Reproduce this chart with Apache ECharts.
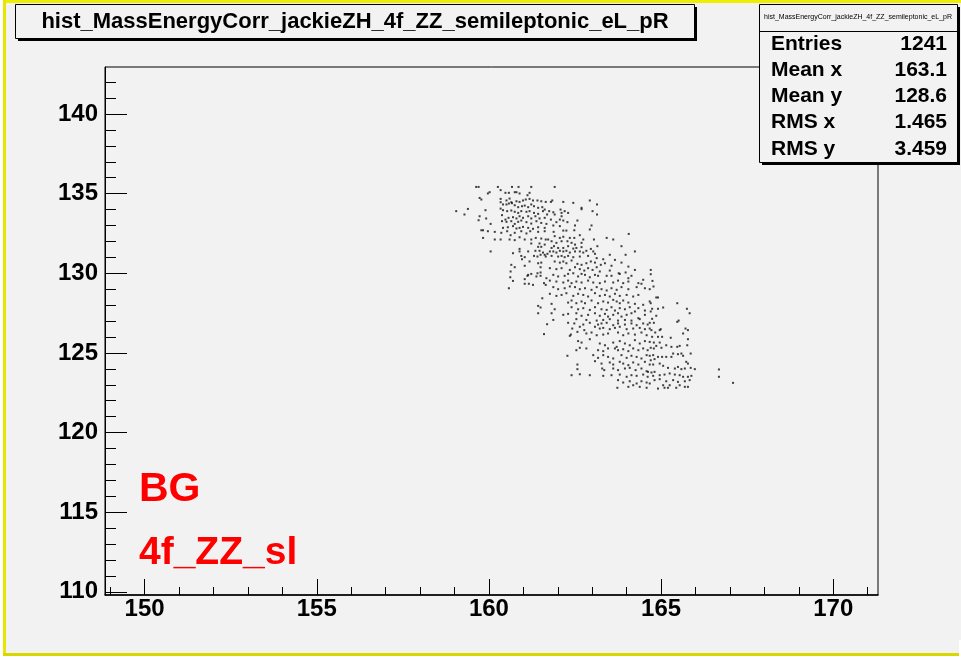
<!DOCTYPE html>
<html><head><meta charset="utf-8">
<script src="https://cdn.jsdelivr.net/npm/echarts@6/dist/echarts.min.js"></script>
<style>html,body{margin:0;padding:0;background:#fff}#c{width:961px;height:657px}</style>
</head><body><div id="c"></div>
<script>
const titleText = 'hist_MassEnergyCorr_jackieZH_4f_ZZ_semileptonic_eL_pR';
const statsLabels = ['Entries', 'Mean x', 'Mean y', 'RMS x', 'RMS y'];
const statsValues = ['1241', '163.1', '128.6', '1.465', '3.459'];
const xMajorTicks = [150, 155, 160, 165, 170];
const xMinorTicks = [149,150,151,152,153,154,155,156,157,158,159,160,161,162,163,164,165,166,167,168,169,170,171];
const yMajorTicks = [110, 115, 120, 125, 130, 135, 140];
const yMinorTicks = [110,111,112,113,114,115,116,117,118,119,120,121,122,123,124,125,126,127,128,129,130,131,132,133,134,135,136,137,138,139,140,141,142];
const labelLines = ['BG', '4f_ZZ_sl'];

// (x = mass, y = energy), region by region
const pointsUpperLeft = [
[159.63,135.42],[159.70,135.42],[160.26,135.42],[160.67,135.42],[160.86,135.42],[161.23,135.42],[160.02,135.09],[159.97,135.01],
[160.34,135.22],[160.48,135.05],[160.58,135.05],[160.75,135.09],[160.80,135.09],[160.89,135.01],[161.12,134.90],[161.18,135.05],
[159.73,134.73],[159.78,134.63],[160.34,134.67],[160.34,134.46],[160.51,134.57],[160.60,134.69],[160.65,134.46],[160.80,134.52],
[160.89,134.48],[160.99,134.57],[161.07,134.63],[161.18,134.67],[161.28,134.57],[161.41,134.57],[161.52,134.52],[161.65,134.48],
[159.39,134.04],[159.05,133.90],[159.29,133.69],[159.90,133.96],[160.41,134.32],[160.51,134.32],[160.58,134.38],[160.67,134.40],
[160.75,134.27],[160.85,134.15],[160.96,134.21],[161.04,134.25],[161.14,134.15],[161.23,134.32],[161.31,134.21],[161.43,134.11],
[161.55,134.15],[161.62,134.00],[160.34,134.06],[160.41,133.96],[160.53,133.90],[160.65,133.94],[160.75,133.86],[160.85,133.79],
[160.94,133.90],[161.09,133.86],[161.18,133.90],[161.31,133.79],[161.43,133.73],[161.57,133.90],[161.69,133.69],[159.73,133.58],
[159.92,133.44],[159.70,133.33],[160.05,133.10],[160.38,133.65],[160.48,133.37],[160.57,133.48],[160.70,133.52],[160.80,133.44],
[160.89,133.58],[160.99,133.48],[161.14,133.58],[161.23,133.44],[161.35,133.58],[161.47,133.44],[161.62,133.48],[160.38,133.27],
[160.51,133.23],[160.65,133.27],[160.75,133.10],[160.85,133.23],[160.94,133.31],[161.09,133.21],[161.23,133.12],[161.38,133.27],
[161.52,133.16],[161.67,133.10],[160.41,132.85],[160.55,132.89],[160.70,132.96],[160.80,132.81],[160.89,132.85],[160.99,132.91],
[161.14,132.85],[161.28,132.79],[161.43,132.89],[161.62,132.85],[159.78,132.70],[159.83,132.70],[159.97,132.64],[160.17,132.60],
[160.36,132.54],[160.53,132.64],[160.63,132.39],[160.75,132.54],[160.94,132.64],[161.09,132.50],[161.20,132.64],[161.43,132.60],
[161.62,132.64],[159.83,132.22],[160.17,132.12],[160.34,132.12],[160.60,132.12],[160.75,132.08],[160.89,132.26],[161.04,132.12],
[161.23,132.12],[161.36,132.22],[161.52,132.18],[161.65,132.12],[160.89,131.53],[161.23,131.87],[161.47,131.87],[161.52,131.66],
[161.43,131.66],[161.62,131.80]
];
const pointsUpperMid = [
[161.91,135.42],[161.84,134.57],[161.80,134.48],[162.16,134.48],[162.45,134.42],[162.93,134.57],[163.14,134.32],[162.69,134.11],
[162.69,134.02],[161.75,133.90],[161.87,133.83],[161.91,133.69],[162.08,134.00],[162.11,133.79],[162.20,133.90],[162.30,133.79],
[163.01,133.90],[163.14,133.69],[161.80,133.37],[162.11,133.58],[162.06,133.37],[161.96,133.21],[162.16,133.31],[162.57,133.31],
[162.28,133.21],[162.50,133.00],[161.87,133.00],[162.06,132.96],[162.98,133.00],[162.16,132.68],[162.25,132.68],[161.88,132.60],
[162.48,132.70],[162.93,132.75],[164.06,132.47],[161.91,132.33],[162.06,132.22],[162.16,132.29],[162.35,132.22],[162.48,132.22],
[162.64,132.39],[162.74,132.12],[163.42,132.22],[163.61,132.12],[161.72,132.12],[161.82,132.01],[161.96,131.91],[162.11,132.01],
[162.28,132.01],[162.40,131.91],[162.50,131.80],[162.69,131.91],[163.05,132.12],[161.82,131.59],[161.89,131.70],[162.01,131.59],
[162.16,131.59],[162.30,131.70],[162.45,131.55],[162.54,131.59],[162.69,131.64],[162.96,131.53],[163.15,131.70],[163.85,131.70]
];
const pointsMidLeft = [
[160.05,131.37],[160.70,131.26],[160.89,131.37],[161.14,131.37],[161.35,131.41],[161.47,131.41],[161.57,131.30],[161.62,131.16],
[161.70,131.22],[160.94,131.09],[161.04,131.01],[160.96,130.88],[161.18,130.74],[161.31,131.09],[161.41,131.05],[161.50,131.16],
[161.65,131.05],[161.43,130.63],[161.52,130.67],[160.65,130.53],[160.75,130.38],[161.04,130.47],[161.50,130.38],[161.14,129.90],
[161.12,129.84],[161.23,129.96],[161.41,130.00],[161.50,130.05],[161.38,129.80],[161.50,129.84],[161.67,129.69],[160.63,130.11],
[160.62,129.75],[160.70,129.52],[161.04,129.63],[161.04,129.34],[161.16,129.34],[161.28,129.27],[161.60,129.38],[161.65,129.27],
[160.58,129.06],[161.55,128.43],[161.43,127.95],[161.50,127.85],[161.43,127.49],[161.69,126.80],[161.60,126.18]
];
const pointsCentre = [
[161.77,131.37],[161.87,131.37],[161.96,131.30],[162.06,131.41],[162.16,131.37],[162.25,131.41],[162.35,131.30],[162.50,131.37],
[162.64,131.37],[162.74,131.30],[162.83,131.41],[163.03,131.37],[163.08,131.22],[163.51,131.16],[163.97,131.16],[164.24,131.37],
[161.82,131.09],[162.01,131.05],[162.11,131.09],[162.20,131.01],[162.30,131.09],[162.45,131.01],[162.64,131.05],[162.88,131.09],
[163.13,130.95],[163.32,130.88],[163.66,130.84],[161.91,130.74],[162.06,130.67],[162.16,130.74],[162.25,130.63],[162.40,130.80],
[162.57,130.59],[162.69,130.53],[162.83,130.63],[162.96,130.74],[163.08,130.67],[163.25,130.53],[163.37,130.63],[163.56,130.47],
[164.05,130.42],[163.85,130.67],[161.77,130.32],[161.96,130.26],[162.11,130.32],[162.35,130.21],[162.50,130.38],[162.64,130.26],
[162.77,130.17],[162.88,130.32],[163.01,130.21],[163.13,130.38],[163.22,130.11],[163.51,130.17],[163.77,130.00],[163.97,130.05],
[164.14,129.84],[164.24,130.21],[161.87,129.90],[162.01,129.80],[162.20,129.84],[162.30,129.96],[162.45,130.00],[162.59,129.80],
[162.69,129.96],[162.79,129.90],[162.93,129.75],[163.08,129.90],[163.17,129.84],[163.42,129.84],[163.56,129.84],[163.80,129.96],
[164.05,129.69],[164.48,129.59],[161.77,129.54],[161.96,129.48],[162.16,129.42],[162.30,129.54],[162.40,129.38],[162.54,129.48],
[162.69,129.42],[162.88,129.54],[163.03,129.42],[163.22,129.38],[163.37,129.48],[163.61,129.42],[163.75,129.54],[163.90,129.38],
[164.05,129.48],[164.34,129.38],[164.43,129.34],[161.87,129.13],[162.01,129.00],[162.20,129.06],[162.35,129.17],[162.50,129.13],
[162.64,129.00],[162.79,129.06],[162.98,128.96],[163.13,129.13],[163.27,129.00],[163.42,128.92],[163.56,129.06],[163.71,128.96],
[163.85,129.13],[164.05,129.00],[164.29,129.13],[164.53,129.06],[161.77,128.71],[161.96,128.58],[162.11,128.64],[162.25,128.75],
[162.45,128.58],[162.59,128.71],[162.74,128.64],[162.88,128.54],[163.08,128.75],[163.22,128.58],[163.37,128.64],[163.51,128.54],
[163.66,128.71],[163.80,128.58],[164.00,128.64],[164.19,128.54],[164.34,128.64],[161.82,128.08],[162.30,128.16],[162.40,128.29],
[162.54,128.12],[162.69,128.23],[162.79,128.12],[162.98,128.29],[163.17,128.12],[163.32,128.23],[163.46,128.16],[163.61,128.33],
[163.71,128.23],[163.80,128.12],[163.90,128.29],[164.05,128.16],[164.24,128.08],[164.48,128.02],[161.91,127.74],[162.40,127.87],
[162.59,127.74],[162.74,127.81],[162.93,127.70],[163.08,127.87],[163.27,127.74],[163.42,127.70],[163.56,127.87],[163.66,127.66],
[163.80,127.81],[163.95,127.74],[164.09,127.87],[164.24,127.60],[164.34,127.81],[164.53,127.66],[161.82,127.49],[162.16,127.39],
[162.30,127.45],[162.54,127.49],[162.69,127.33],[162.88,127.39],[163.08,127.49],[163.22,127.33],[163.37,127.45],[163.46,127.28],
[163.61,127.39],[163.75,127.49],[163.85,127.28],[164.00,127.39],[164.14,127.49],[164.34,127.18],[164.53,127.39],[161.87,127.07],
[162.54,127.12],[162.83,127.07],[163.13,127.03],[163.32,127.07],[163.51,127.12],[163.75,127.03],[163.95,127.07],[164.14,127.03],
[164.38,127.12]
];
const pointsMidRight = [
[164.70,130.21],[164.70,129.94],[164.75,129.52],[164.78,129.17],[164.67,129.00],[164.86,128.48],[164.91,128.48],[164.67,128.23],
[164.70,128.12],[165.47,128.12],[164.74,127.77],[164.91,127.77],[165.06,127.85],[165.75,127.77],[165.83,127.49],[164.70,127.60],
[164.86,127.33],[164.74,127.14],[165.51,127.03]
];
const pointsLowerMid = [
[162.30,126.89],[162.48,126.85],[162.74,126.78],[162.93,126.89],[163.17,126.78],[163.27,126.85],[163.42,126.89],[163.61,126.74],
[163.75,126.85],[163.95,126.78],[164.14,126.85],[164.29,126.74],[164.48,126.85],[164.61,126.78],[162.42,126.53],[162.64,126.64],
[162.77,126.43],[163.08,126.64],[163.22,126.53],[163.32,126.57],[163.51,126.49],[163.66,126.57],[163.80,126.64],[164.00,126.49],
[164.19,126.53],[164.38,126.57],[164.53,126.49],[162.35,126.07],[162.38,126.15],[162.57,126.32],[162.83,126.22],[162.98,126.28],
[163.13,126.11],[163.32,126.15],[163.46,126.22],[163.75,126.28],[163.90,126.11],[164.05,126.22],[164.24,126.15],[164.43,126.28],
[164.58,126.11],[162.59,125.74],[162.93,125.86],[162.69,125.65],[163.22,125.59],[163.37,125.48],[163.61,125.65],[163.71,125.38],
[163.80,125.74],[163.95,125.59],[164.09,125.48],[164.24,125.80],[164.38,125.59],[164.53,125.74],[162.54,125.17],[162.64,125.32],
[162.83,125.28],[163.17,125.17],[163.32,125.11],[163.46,125.28],[163.66,125.28],[163.75,125.17],[163.90,125.23],[164.05,125.11],
[164.19,125.28],[164.34,125.17],[164.48,125.28],[164.61,125.17],[162.28,124.82],[163.03,124.86],[163.17,124.69],[163.32,124.86],
[163.46,124.75],[163.61,124.65],[163.85,124.86],[164.00,124.69],[164.14,124.82],[164.29,124.75],[164.43,124.65],[164.58,124.86],
[163.08,124.48],[163.27,124.33],[163.51,124.40],[163.61,124.27],[163.80,124.44],[163.90,124.33],[164.05,124.23],[164.19,124.40],
[164.34,124.27],[164.53,124.44],[162.57,124.27],[162.57,123.98],[163.29,124.02],[163.35,123.92],[163.61,124.02],[163.75,123.92],
[163.95,124.02],[164.09,124.06],[164.26,123.92],[164.43,124.02],[164.58,123.85],[162.40,123.60],[162.64,123.66],[162.93,123.60],
[163.32,123.56],[163.56,123.60],[163.80,123.64],[164.00,123.50],[164.14,123.60],[164.29,123.56],[164.48,123.64],[164.61,123.50],
[163.75,123.29],[163.90,123.14],[164.09,123.22],[164.29,123.08],[164.43,123.22],[164.58,123.14],[163.73,122.81],[164.05,122.87],
[164.19,122.97],[164.38,122.87],[164.58,122.81]
];
const pointsLowerRight = [
[164.67,126.89],[164.79,126.89],[165.47,126.95],[164.67,126.53],[164.72,126.43],[164.96,126.43],[164.99,126.49],[164.83,126.28],
[164.74,126.01],[164.91,126.01],[165.03,126.01],[165.28,125.95],[165.64,126.22],[165.71,126.53],[165.78,126.43],[165.78,125.86],
[164.67,125.69],[164.79,125.65],[164.96,125.65],[164.86,125.44],[165.15,125.48],[165.30,125.38],[165.47,125.38],[165.54,125.44],
[165.76,125.48],[164.70,125.32],[164.79,125.28],[165.01,125.32],[165.35,124.96],[165.49,124.92],[165.59,124.96],[165.64,124.82],
[165.86,124.96],[164.67,124.82],[164.77,124.86],[164.91,124.75],[165.03,124.75],[165.15,124.75],[165.30,124.75],[164.70,124.54],
[164.81,124.61],[165.73,124.44],[165.78,124.33],[164.67,124.27],[164.77,124.27],[164.96,124.33],[165.06,124.19],[165.20,124.06],
[165.40,124.02],[165.49,124.12],[165.59,123.98],[165.69,124.02],[165.86,124.06],[165.98,123.98],[164.62,123.81],[164.72,123.77],
[164.81,123.81],[164.77,123.56],[164.96,123.60],[165.10,123.64],[165.25,123.71],[165.40,123.64],[165.54,123.60],[165.64,123.50],
[165.78,123.50],[165.88,123.56],[164.81,123.29],[164.96,123.35],[165.15,123.22],[165.35,123.29],[165.49,123.18],[165.69,123.22],
[165.83,123.29],[164.67,123.08],[165.06,122.97],[165.25,122.97],[165.54,122.97],[165.69,122.87],[165.78,122.87],[164.91,122.76],
[165.10,122.81],[165.20,122.81],[165.44,122.81],[166.68,123.96],[166.68,123.50],[167.09,123.12]
];

const points = [].concat(pointsUpperLeft, pointsUpperMid, pointsMidLeft, pointsCentre,
  pointsMidRight, pointsLowerMid, pointsLowerRight);

const FONT = '"Liberation Sans", Arial, Helvetica, sans-serif';
const chart = echarts.init(document.getElementById('c'), null, {renderer: 'canvas'});

const statsGraphics = [];
statsLabels.forEach((lab, i) => {
  const yc = 44 + i * 26.2;
  statsGraphics.push({type: 'text', x: 771, y: yc, z: 20,
    style: {text: lab, font: 'bold 21px ' + FONT, fill: '#000', textVerticalAlign: 'middle'}});
  statsGraphics.push({type: 'text', x: 947, y: yc, z: 20,
    style: {text: statsValues[i], font: 'bold 21px ' + FONT, fill: '#000', textAlign: 'right', textVerticalAlign: 'middle'}});
});

const option = {
  backgroundColor: '#f2f2f2',
  animation: false,
  grid: {left: 105, top: 67, width: 773, height: 528, show: true,
         borderColor: '#000', borderWidth: 1, backgroundColor: 'transparent'},
  xAxis: [
    {type: 'value', min: 148.85, max: 171.3, position: 'bottom',
     axisLine: {show: true, onZero: false, lineStyle: {color: '#000', width: 1.5}},
     axisTick: {show: true, inside: true, length: 16, customValues: xMajorTicks, lineStyle: {color: '#000', width: 1}},
     axisLabel: {show: true, customValues: xMajorTicks, margin: 2, color: '#000', fontSize: 24, fontWeight: 'bold', fontFamily: FONT},
     splitLine: {show: false}},
    {type: 'value', min: 148.85, max: 171.3, position: 'bottom',
     axisLine: {show: false},
     axisTick: {show: true, inside: true, length: 8, customValues: xMinorTicks, lineStyle: {color: '#000', width: 1}},
     axisLabel: {show: false}, splitLine: {show: false}}
  ],
  yAxis: [
    {type: 'value', min: 109.8, max: 142.95, position: 'left',
     axisLine: {show: true, onZero: false, lineStyle: {color: '#000', width: 1}},
     axisTick: {show: true, inside: true, length: 22, customValues: yMajorTicks, lineStyle: {color: '#000', width: 1}},
     axisLabel: {show: true, customValues: yMajorTicks, margin: 7, color: '#000', fontSize: 24, fontWeight: 'bold', fontFamily: FONT},
     splitLine: {show: false}},
    {type: 'value', min: 109.8, max: 142.95, position: 'left',
     axisLine: {show: false},
     axisTick: {show: true, inside: true, length: 11, customValues: yMinorTicks, lineStyle: {color: '#000', width: 1}},
     axisLabel: {show: false}, splitLine: {show: false}}
  ],
  series: [{
    type: 'scatter', xAxisIndex: 0, yAxisIndex: 0,
    symbol: 'rect', symbolSize: 2, silent: true,
    itemStyle: {color: '#111'},
    data: points
  }],
  graphic: [
    // pad border (top, left, bottom)
    {type: 'rect', shape: {x: 0, y: 0, width: 961, height: 3}, z: 1, style: {fill: '#eeee00'}},
    {type: 'rect', shape: {x: 0, y: 0, width: 3, height: 657}, z: 1, style: {fill: '#ffffff'}},
    {type: 'rect', shape: {x: 3, y: 0, width: 3, height: 656}, z: 1, style: {fill: '#e6e600'}},
    {type: 'rect', shape: {x: 3, y: 653, width: 956, height: 3}, z: 1, style: {fill: '#d8d800'}},
    {type: 'rect', shape: {x: 0, y: 656, width: 961, height: 1}, z: 1, style: {fill: '#ffffff'}},
    {type: 'rect', shape: {x: 959, y: 640, width: 2, height: 17}, z: 1, style: {fill: '#ffffff'}},
    // title box
    {type: 'rect', shape: {x: 18, y: 7, width: 679, height: 34}, z: 10, style: {fill: '#000'}},
    {type: 'rect', shape: {x: 15.5, y: 4.5, width: 679, height: 34}, z: 11, style: {fill: '#f2f2f2', stroke: '#000', lineWidth: 1}},
    {type: 'text', x: 355, y: 22, z: 12,
     style: {text: titleText, font: 'bold 22px ' + FONT, fill: '#000', textAlign: 'center', textVerticalAlign: 'middle'}},
    // stats box
    {type: 'rect', shape: {x: 762, y: 7, width: 198, height: 158}, z: 10, style: {fill: '#000'}},
    {type: 'rect', shape: {x: 759.5, y: 4.5, width: 198, height: 158}, z: 11, style: {fill: '#f2f2f2', stroke: '#000', lineWidth: 1}},
    {type: 'line', shape: {x1: 759.5, y1: 31.5, x2: 957.5, y2: 31.5}, z: 12, style: {stroke: '#000', lineWidth: 1}},
    {type: 'text', x: 858, y: 17, z: 12,
     style: {text: titleText, font: '7px ' + FONT, fill: '#000', textAlign: 'center', textVerticalAlign: 'middle'}},
    ...statsGraphics,
    // red labels
    {type: 'text', left: 139, top: 469, z: 12, style: {text: labelLines[0], font: 'bold 41px ' + FONT, fill: '#ff0000'}},
    {type: 'text', left: 139, top: 534, z: 12, style: {text: labelLines[1], font: 'bold 39px ' + FONT, fill: '#ff0000'}}
  ]
};
chart.setOption(option);
</script>
</body></html>
